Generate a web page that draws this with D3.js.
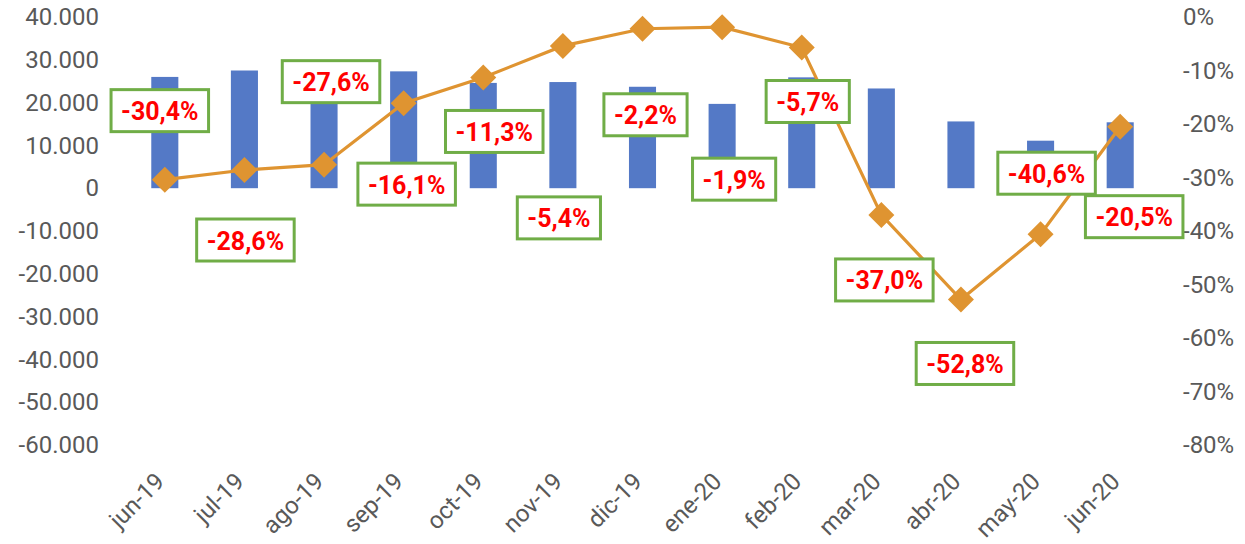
<!DOCTYPE html>
<html>
<head>
<meta charset="utf-8">
<script src="https://cdn.jsdelivr.net/npm/d3@7"></script>
<style>
  body { margin: 0; background: #fff; }
  text { font-family: Roboto, "Noto Sans", sans-serif; }
</style>
</head>
<body>
<svg id="chart" width="1245" height="544"></svg>
<script>
const months = ['jun-19', 'jul-19', 'ago-19', 'sep-19', 'oct-19', 'nov-19', 'dic-19',
  'ene-20', 'feb-20', 'mar-20', 'abr-20', 'may-20', 'jun-20'];
const volumes = [26000, 27500, 23000, 27300, 24600, 24800, 23700, 19700, 25900, 23300, 15600, 11100, 15400];
const changes = [-30.4, -28.6, -27.6, -16.1, -11.3, -5.4, -2.2, -1.9, -5.7, -37.0, -52.8, -40.6, -20.5];
const leftTicks = [40000, 30000, 20000, 10000, 0, -10000, -20000, -30000, -40000, -50000, -60000];
const rightTicks = [0, -10, -20, -30, -40, -50, -60, -70, -80];

// where Excel dropped each data label, offset from its marker (px)
const labelShift = [[-5, -69], [1, 70], [7, -83], [3, 81], [11, 54], [-4, 172], [3, 86],
  [12, 152], [6, 54], [3, 65], [4, 64], [6, -61], [14, 90]];

const svg = d3.select('#chart');
const plotTop = 17, plotBottom = 445, plotLeft = 125, plotRight = 1160;

const x = d3.scaleBand().domain(months).range([plotLeft, plotRight])
  .paddingInner(0.66).paddingOuter(0.33);
const yL = d3.scaleLinear().domain([-60000, 40000]).range([plotBottom, plotTop]);
const yR = d3.scaleLinear().domain([-80, 0]).range([plotBottom, plotTop]);

const es = d3.formatLocale({ decimal: ',', thousands: '.', grouping: [3], currency: ['', '€'], minus: '-' });
const fmtNum = es.format(',.0f');
const fmtPct = es.format('.1f');
const cx = (d) => x(d) + x.bandwidth() / 2;

// left axis
svg.append('g')
  .attr('transform', `translate(${plotLeft - 26},0)`)
  .call(d3.axisLeft(yL).tickValues(leftTicks).tickFormat(fmtNum).tickSize(0).tickPadding(0))
  .call((g) => g.select('.domain').remove())
  .selectAll('text')
  .attr('fill', '#595959')
  .style('font-size', '24px');

// right axis
svg.append('g')
  .attr('transform', `translate(${plotRight + 23},0)`)
  .call(d3.axisRight(yR).tickValues(rightTicks).tickFormat((d) => es.format('d')(d) + '%').tickSize(0).tickPadding(0))
  .call((g) => g.select('.domain').remove())
  .selectAll('text')
  .attr('fill', '#595959')
  .style('font-size', '24px');

// category labels
svg.append('g')
  .selectAll('text')
  .data(months)
  .enter()
  .append('text')
  .attr('transform', (d) => `translate(${cx(d) + 1},${plotBottom + 38}) rotate(-45)`)
  .attr('text-anchor', 'end')
  .attr('fill', '#595959')
  .style('font-size', '24px')
  .text((d) => d);

// bars
svg.append('g')
  .selectAll('rect')
  .data(volumes)
  .enter()
  .append('rect')
  .attr('x', (d, i) => x(months[i]))
  .attr('width', x.bandwidth())
  .attr('y', (d) => yL(Math.max(d, 0)))
  .attr('height', (d) => Math.abs(yL(d) - yL(0)))
  .attr('fill', '#5479C6');

// line
svg.append('path')
  .datum(changes)
  .attr('fill', 'none')
  .attr('stroke', '#DF9431')
  .attr('stroke-width', 3.2)
  .attr('d', d3.line().x((d, i) => cx(months[i])).y((d) => yR(d)));

svg.append('g')
  .selectAll('path')
  .data(changes)
  .enter()
  .append('path')
  .attr('transform', (d, i) => `translate(${cx(months[i])},${yR(d)})`)
  .attr('d', 'M0,-13L13,0L0,13L-13,0Z')
  .attr('fill', '#DF9431');

// data labels
const lbl = svg.append('g')
  .selectAll('g')
  .data(changes)
  .enter()
  .append('g')
  .attr('transform', (d, i) => `translate(${cx(months[i]) + labelShift[i][0]},${yR(d) + labelShift[i][1]})`);

lbl.append('text')
  .attr('text-anchor', 'middle')
  .attr('dy', '0.38em')
  .attr('fill', '#FF0000')
  .style('font-size', '25px')
  .style('font-weight', 'bold')
  .text((d) => fmtPct(d) + '%');

lbl.each(function () {
  const g = d3.select(this);
  const b = g.select('text').node().getBBox();
  g.insert('rect', 'text')
    .attr('x', b.x - 10)
    .attr('y', -21)
    .attr('width', b.width + 20)
    .attr('height', 42)
    .attr('fill', '#fff')
    .attr('stroke', '#70AD47')
    .attr('stroke-width', 3);
});
</script>
</body>
</html>
